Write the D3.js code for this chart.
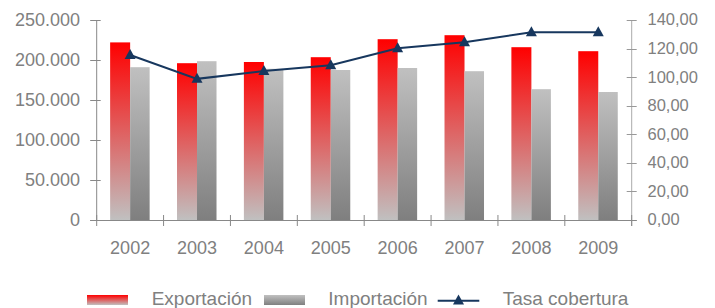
<!DOCTYPE html>
<html><head><meta charset="utf-8">
<script src="https://cdn.jsdelivr.net/npm/d3@7"></script>
<style>body{margin:0;background:#fff}svg{display:block}text{font-family:"Liberation Sans",Arial,sans-serif;fill:#808080}</style>
</head><body><svg id="c" width="715" height="308"></svg>
<script>
const years = ["2002","2003","2004","2005","2006","2007","2008","2009"];
const exportacion = [222000,196000,197500,203500,226000,231000,216000,211000];
const importacion = [191000,198500,189000,187500,190000,186000,163500,160000];
const tasa = [115.5,98.8,104.3,108.4,120.2,124.4,131.4,131.4];
const leftTicks = [0,50000,100000,150000,200000,250000];
const rightTicks = [0,20,40,60,80,100,120,140];
const seriesNames = ["Exportación","Importación","Tasa cobertura"];

const loc = d3.formatLocale({decimal:",",thousands:".",grouping:[3],currency:["",""]});
const fL = loc.format(",.0f"), fR = loc.format(",.2f");

const svg = d3.select("#c");
const defs = svg.append("defs");
function grad(id, top, bot){
  const g = defs.append("linearGradient").attr("id",id).attr("x1",0).attr("y1",0).attr("x2",0).attr("y2",1);
  g.append("stop").attr("offset","0%").attr("stop-color",top);
  g.append("stop").attr("offset","100%").attr("stop-color",bot);
}
grad("gRed","#ff0000","#c0c0c0");
grad("gGray","#c0c0c0","#7f7f7f");

const X0 = 96.7, X1 = 631.7, Y0 = 220, YT = 20;
const x = d3.scaleBand().domain(years).range([X0,X1]);
const yL = d3.scaleLinear().domain([0,250000]).range([Y0,YT]);
const yR = d3.scaleLinear().domain([0,140]).range([Y0,YT]);
const bw = 20;

// bars
svg.append("g").selectAll("rect.e").data(years).join("rect")
  .attr("x",d=>x(d)+x.bandwidth()/2-bw).attr("width",bw)
  .attr("y",(d,i)=>yL(exportacion[i])).attr("height",(d,i)=>Y0-yL(exportacion[i]))
  .attr("fill","url(#gRed)");
svg.append("g").selectAll("rect.i").data(years).join("rect")
  .attr("x",d=>x(d)+x.bandwidth()/2).attr("width",bw-0.5)
  .attr("y",(d,i)=>yL(importacion[i])).attr("height",(d,i)=>Y0-yL(importacion[i]))
  .attr("fill","url(#gGray)");

// axes
const axCol = "#888";
const gl = svg.append("g");
gl.append("line").attr("x1",X0).attr("x2",X0).attr("y1",YT).attr("y2",Y0).attr("stroke",axCol);
gl.selectAll("line.t").data(leftTicks).join("line").attr("class","t")
  .attr("x1",X0-6.5).attr("x2",X0+4).attr("y1",d=>Math.round(yL(d))+0.5).attr("y2",d=>Math.round(yL(d))+0.5).attr("stroke",axCol);
gl.selectAll("text").data(leftTicks).join("text")
  .attr("x",80).attr("y",d=>yL(d)).attr("dy","0.33em").attr("text-anchor","end")
  .attr("font-size",18).text(d=>fL(d));

const gr = svg.append("g");
gr.append("line").attr("x1",X1).attr("x2",X1).attr("y1",YT).attr("y2",Y0+6).attr("stroke","#aaa");
gr.selectAll("line.t").data(rightTicks).join("line").attr("class","t")
  .attr("x1",X1-5).attr("x2",X1+5).attr("y1",d=>Math.round(yR(d))+0.5).attr("y2",d=>Math.round(yR(d))+0.5).attr("stroke","#999");
gr.selectAll("text").data(rightTicks).join("text")
  .attr("x",647.5).attr("y",d=>yR(d)).attr("dy","0.33em")
  .attr("font-size",16.5).text(d=>fR(d));

const gb = svg.append("g");
gb.append("line").attr("x1",X0-6.5).attr("x2",X1+5).attr("y1",Y0+0.5).attr("y2",Y0+0.5).attr("stroke",axCol);
gb.selectAll("line.t").data(years.map(d=>x(d)).concat([X1])).join("line").attr("class","t")
  .attr("x1",d=>d).attr("x2",d=>d).attr("y1",Y0-5).attr("y2",Y0+6).attr("stroke",axCol);
gb.selectAll("text").data(years).join("text")
  .attr("x",d=>x(d)+x.bandwidth()/2).attr("y",254.3).attr("text-anchor","middle")
  .attr("font-size",18).text(d=>d);

// line
const navy = "#17375e";
const cx = d=>x(d)+x.bandwidth()/2;
svg.append("path").datum(years)
  .attr("d",d3.line().x(cx).y((d,i)=>yR(tasa[i])))
  .attr("fill","none").attr("stroke",navy).attr("stroke-width",2);
const tri = (px,py)=>`M${px},${py-6}L${px+5.5},${py+4}L${px-5.5},${py+4}Z`;
svg.append("g").selectAll("path").data(years).join("path")
  .attr("d",(d,i)=>tri(cx(d),yR(tasa[i]))).attr("fill",navy);

// legend
const lg = svg.append("g");
lg.append("rect").attr("x",87).attr("y",295).attr("width",41).attr("height",10).attr("fill","url(#gRed)");
lg.append("text").attr("x",151.7).attr("y",304.5).attr("font-size",19).text(seriesNames[0]);
lg.append("rect").attr("x",264).attr("y",295).attr("width",41).attr("height",10).attr("fill","url(#gGray)");
lg.append("text").attr("x",328.3).attr("y",304.5).attr("font-size",19).text(seriesNames[1]);
lg.append("line").attr("x1",437.7).attr("x2",479.3).attr("y1",300.7).attr("y2",300.7).attr("stroke",navy).attr("stroke-width",2);
lg.append("path").attr("d",tri(458.5,300.5)).attr("fill",navy);
lg.append("text").attr("x",502.7).attr("y",304.5).attr("font-size",19).text(seriesNames[2]);
</script></body></html>
